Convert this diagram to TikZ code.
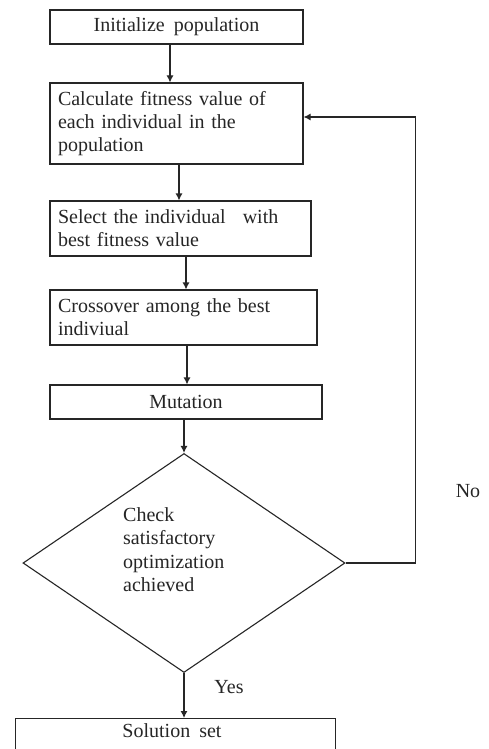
\documentclass[tikz,border=0pt]{standalone}
\usepackage{fontspec}
\setmainfont{Liberation Serif}
\usetikzlibrary{shapes.geometric,arrows.meta}
\newcommand{\mywsp}{\spaceskip=9pt plus 2pt minus 1pt\relax}
\begin{document}
\begin{tikzpicture}[x=1pt,y=-1pt,
  box/.style={draw=black!85, line width=1.1pt, rectangle, inner sep=0pt, font=\fontsize{20}{23}\selectfont\mywsp, text=black!85},
  lbox/.style={box, align=left},
  arr/.style={draw=black!85, line width=1.1pt, -{Latex[length=7pt,width=7pt]}},
  lbl/.style={font=\fontsize{20}{23.5}\selectfont, text=black!85, inner sep=0pt}]
\clip (0,0) rectangle (488,749);
\fill[white] (0,0) rectangle (488,749);
\node[box, minimum width=253pt, minimum height=34pt] (b1) at (176.5,27) {Initialize population};
\node[lbox, minimum width=253pt, minimum height=81pt, text width=237pt] (b2) at (176.5,123.5) {Calculate fitness value of\\each individual in the\\population};
\node[lbox, minimum width=261pt, minimum height=55pt, text width=245pt] (b3) at (180.5,228.5) {Select the individual\hspace{17pt}with\\best fitness value};
\node[lbox, minimum width=267pt, minimum height=55pt, text width=251pt] (b4) at (183.5,317.5) {Crossover among the best\\indiviual};
\node[box, minimum width=272pt, minimum height=34pt] (b5) at (186,402) {Mutation};
\node[draw=black!85, line width=1.1pt, diamond, minimum width=322pt, minimum height=219pt, inner sep=0pt] (dec) at (184,563) {};
\node[lbl, align=left, anchor=north west] (dect) at (123,507) {Check\\satisfactory\\optimization\\achieved};
\node[box, minimum width=320pt, minimum height=60pt, anchor=north west] (b6) at (15,718) {};
\node[lbl, font=\fontsize{20}{23}\selectfont\mywsp] (b6t) at (172,731) {Solution set};
\node[lbl] (no) at (468,491) {No};
\node[lbl] (yes) at (229,687) {Yes};
\draw[arr] ([xshift=-6.5pt]b1.south) -- ([xshift=-6.5pt]b1.south |- b2.north);
\draw[arr] ([xshift=2.5pt]b2.south) -- ([xshift=2.5pt]b2.south |- b3.north);
\draw[arr] ([xshift=5.5pt]b3.south) -- ([xshift=5.5pt]b3.south |- b4.north);
\draw[arr] ([xshift=3.5pt]b4.south) -- ([xshift=3.5pt]b4.south |- b5.north);
\draw[arr] (b5.south -| dec.north) -- (dec.north);
\draw[arr] (dec.south) -- (dec.south |- b6.north);
\draw[arr] (dec.east) -- ++(70,0) |- ([yshift=6.5pt]b2.east);
\end{tikzpicture}
\end{document}
